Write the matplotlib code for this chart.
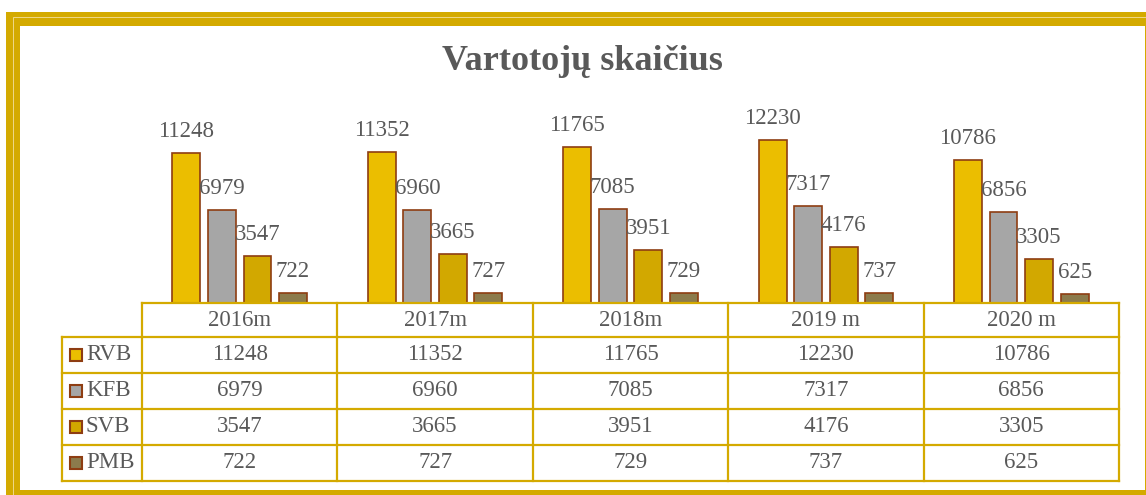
import matplotlib.pyplot as plt
from matplotlib.patches import Rectangle
from matplotlib.transforms import blended_transform_factory

years = ["2016m", "2017m", "2018m", "2019 m", "2020 m"]
series = ["RVB", "KFB", "SVB", "PMB"]
rvb = [11248, 11352, 11765, 12230, 10786]
kfb = [6979, 6960, 7085, 7317, 6856]
svb = [3547, 3665, 3951, 4176, 3305]
pmb = [722, 727, 729, 737, 625]
values = [rvb, kfb, svb, pmb]
colors = ["#EBBE00", "#A6A6A6", "#D2A800", "#8C7B4C"]

W, H = 1146, 495
gold = "#D4AA00"
edge = "#8E3D12"
txt = "#595959"
serif = ["Liberation Serif", "DejaVu Serif"]

fig = plt.figure(figsize=(W / 100, H / 100), dpi=100)


def px_rect(x0, y0, x1, y1, **kw):
    fig.add_artist(Rectangle((x0 / W, 1 - y1 / H), (x1 - x0) / W, (y1 - y0) / H,
                             transform=fig.transFigure, zorder=-5, **kw))


# double gold frame
px_rect(6, 12, W + 10, H + 10, facecolor=gold, edgecolor="none")
px_rect(12.5, 17.5, W + 10, H + 10, facecolor="none", edgecolor="#EFD98A", lw=0.7)
px_rect(20, 26, 1144.5, 490, facecolor="white", edgecolor="none")

# axes placed so the categories line up with the table columns
left, right, bottom, top = 142, 1119, 302.5, 37.5
ax = fig.add_axes([left / W, 1 - bottom / H, (right - left) / W, (bottom - top) / H])
ax.set_xlim(-0.5, 4.5)
ax.set_ylim(0, 20000)
ax.axis("off")

fs = 16.5
bw = 0.143
step = 0.182
for k, (name, vals, c) in enumerate(zip(series, values, colors)):
    xs = [i + (k - 1.5) * step for i in range(len(years))]
    ax.bar(xs, vals, width=bw, color=c, edgecolor=edge, linewidth=1.2, zorder=3)
    for x, v in zip(xs, vals):
        ax.annotate(str(v), (x, v), xytext=(0, 11.5), textcoords="offset points",
                    ha="center", va="baseline", fontsize=fs, color=txt, family=serif)

fig.text(582 / W, 1 - 70 / H, "Vartotojų skaičius", ha="center", va="baseline",
         fontsize=26, fontweight="bold", color=txt, family=serif)

# data table under the axes
axh = bottom - top
unit = (right - left) / 5.0


def yf(py):
    return -(py - bottom) / axh


tr = blended_transform_factory(ax.transData, ax.transAxes)
row_edges = [303, 337, 373, 409, 445, 481]
x_lab = -0.5 - (left - 62) / unit
lkw = dict(color=gold, lw=1.6, transform=tr, clip_on=False, zorder=4)

ax.plot([-0.5, 4.5], [yf(row_edges[0])] * 2, **lkw)
for py in row_edges[1:]:
    ax.plot([x_lab, 4.5], [yf(py)] * 2, **lkw)
for i in range(6):
    ax.plot([i - 0.5] * 2, [yf(row_edges[0]), yf(row_edges[-1])], **lkw)
ax.plot([x_lab] * 2, [yf(row_edges[1]), yf(row_edges[-1])], **lkw)

tkw = dict(transform=tr, fontsize=fs, color=txt, family=serif, va="center", clip_on=False)
hy = yf((row_edges[0] + row_edges[1]) / 2)
for i, yr in enumerate(years):
    ax.text(i, hy, yr, ha="center", **tkw)

for k, (name, vals, c) in enumerate(zip(series, values, colors)):
    ry = yf((row_edges[k + 1] + row_edges[k + 2]) / 2)
    ax.plot([-0.5 - (left - 76) / unit], [ry], marker="s", markersize=8.5,
            markerfacecolor=c, markeredgecolor=edge, markeredgewidth=1.5,
            transform=tr, clip_on=False)
    ax.text(-0.5 - (left - 86) / unit, ry, name, ha="left", **tkw)
    for i, v in enumerate(vals):
        ax.text(i, ry, str(v), ha="center", **tkw)

fig.savefig("out.png", dpi=100)
